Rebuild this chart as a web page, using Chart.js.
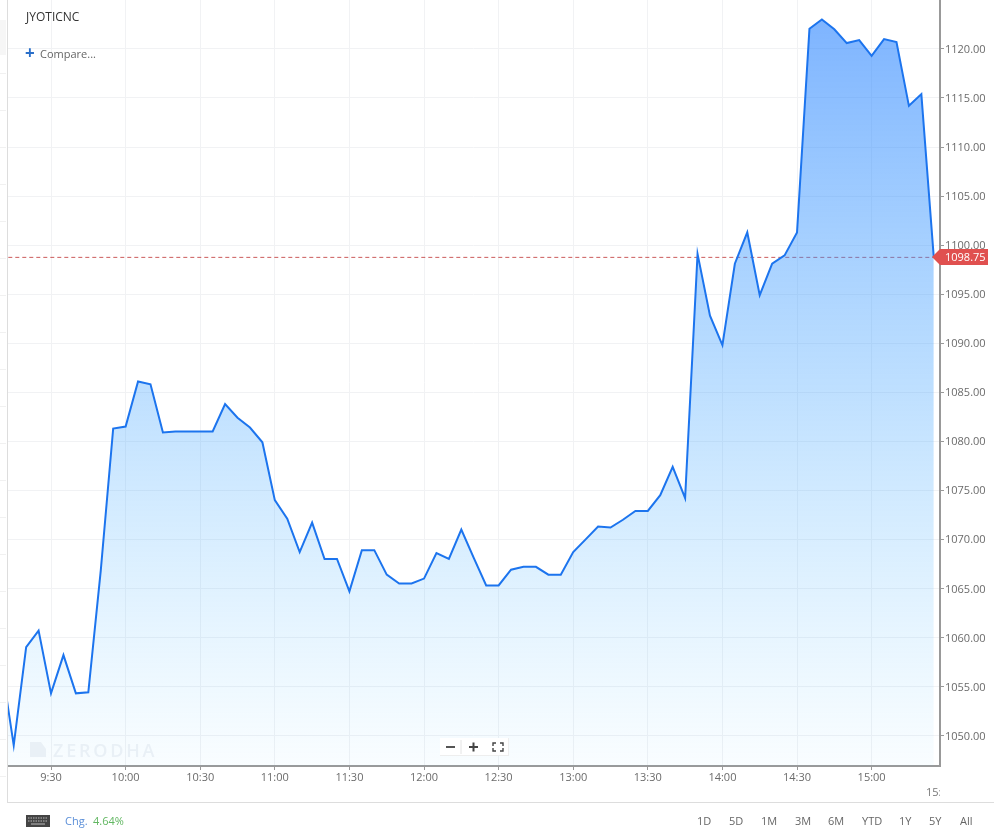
<!DOCTYPE html>
<html>
<head>
<meta charset="utf-8">
<title>JYOTICNC</title>
<script src="https://cdn.jsdelivr.net/npm/chart.js@4/dist/chart.umd.js"></script>
<style>
html, body { margin: 0; padding: 0; background: #fff; }
body { font-family: "Open Sans", sans-serif; color: #666; font-size: 11px; }
#myChart { position: absolute; left: 0; top: 0; }
.txt { position: absolute; white-space: nowrap; line-height: 14px; }
#strip { position: absolute; left: 0; top: 0; width: 6px; height: 802px; background: repeating-linear-gradient(#fff 0 36px, #f1f1f1 36px 37px); }
#stripBand { position: absolute; left: 0; top: 20px; width: 6px; height: 35px; background: #f6f6f6; }
#panelLeft { position: absolute; left: 7px; top: 0; width: 1px; height: 802px; background: #ddd; }
#panelBottom { position: absolute; left: 7px; top: 802px; width: 987px; height: 1px; background: #ddd; }
#zoomBox { position: absolute; left: 440px; top: 738px; width: 69px; height: 18px; background: #fff; border-right: 1px solid #eee; border-bottom: 1px solid #eee; box-sizing: border-box; }
#zoomBox svg { position: absolute; left: 0; top: 0; }
</style>
</head>
<body>
<canvas id="myChart" width="994" height="836"></canvas>
<div id="strip"></div>
<div id="stripBand"></div>
<div id="panelLeft"></div>
<div id="panelBottom"></div>

<div class="txt" style="left:26px;top:10px;font-size:12px;color:#333">JYOTICNC</div>
<div class="txt" style="left:25px;top:46px;font-size:17px;font-weight:700;color:#2a6fc9">+</div>
<div class="txt" style="left:40px;top:47px;color:#666">Compare...</div>

<svg style="position:absolute;left:30px;top:742px" width="17" height="16"><path d="M0 0H11L16 7V15H0Z" fill="#e9f0f6"/></svg>
<div class="txt" style="left:53px;top:740px;font-size:18px;line-height:20px;letter-spacing:2.8px;font-weight:600;color:#e9f0f6">ZERODHA</div>

<div id="zoomBox">
  <svg width="69" height="18">
    <path d="M6 9H15" stroke="#555" stroke-width="2"/>
    <path d="M21 2V16" stroke="#e4e4e4"/>
    <path d="M29 9H38M33.5 4.5V13.5" stroke="#444" stroke-width="2"/>
    <path d="M53 8V5H56M60 5H63V8M63 10V13H60M56 13H53V10" stroke="#444" fill="none" stroke-width="1.4"/>
  </svg>
</div>

<div class="txt" style="left:926px;top:785px;width:14px;overflow:hidden;color:#777">15:30</div>

<svg style="position:absolute;left:26px;top:815px" width="24" height="12"><rect width="24" height="12" fill="#444"/><path d="M2 3H22M2 6H22" stroke="#bbb" stroke-dasharray="1.5 1"/><path d="M5 9H19" stroke="#bbb"/></svg>
<div class="txt" style="left:65px;top:814px;color:#5b8fd8">Chg.</div>
<div class="txt" style="left:93px;top:814px;color:#62b762">4.64%</div>
<div id="ranges"></div>

<script>
// 5 minute closes, first one is cut off by the left edge
const times = ['9:10','9:15','9:20','9:25','9:30','9:35','9:40','9:45','9:50','9:55',
	'10:00','10:05','10:10','10:15','10:20','10:25','10:30','10:35','10:40','10:45','10:50','10:55',
	'11:00','11:05','11:10','11:15','11:20','11:25','11:30','11:35','11:40','11:45','11:50','11:55',
	'12:00','12:05','12:10','12:15','12:20','12:25','12:30','12:35','12:40','12:45','12:50','12:55',
	'13:00','13:05','13:10','13:15','13:20','13:25','13:30','13:35','13:40','13:45','13:50','13:55',
	'14:00','14:05','14:10','14:15','14:20','14:25','14:30','14:35','14:40','14:45','14:50','14:55',
	'15:00','15:05','15:10','15:15','15:20','15:25'];
const closes = [1057.4,1049.0,1059.0,1060.7,1054.3,1058.2,1054.3,1054.4,1066.8,1081.3,
	1081.5,1086.1,1085.8,1080.9,1081.0,1081.0,1081.0,1081.0,1083.8,1082.4,1081.4,1079.9,
	1074.0,1072.1,1068.7,1071.7,1068.0,1068.0,1064.7,1068.9,1068.9,1066.4,1065.5,1065.5,
	1066.0,1068.6,1068.0,1071.0,1068.1,1065.3,1065.3,1066.9,1067.2,1067.2,1066.4,1066.4,
	1068.7,1070.0,1071.3,1071.2,1072.0,1072.9,1072.9,1074.5,1077.4,1074.2,1099.1,1092.8,
	1089.8,1098.1,1101.3,1094.9,1098.1,1098.95,1101.3,1122.06,1123.0,1122.0,1120.6,1120.9,
	1119.3,1121.0,1120.7,1114.2,1115.4,1098.75];
const lastPrice = 1098.75;
const xTicks = ['9:30','10:00','10:30','11:00','11:30','12:00','12:30','13:00','13:30','14:00','14:30','15:00'];
const yTicks = [1050,1055,1060,1065,1070,1075,1080,1085,1090,1095,1100,1105,1110,1115,1120];
const rangeNames = ['1D','5D','1M','3M','6M','YTD','1Y','5Y','All'];
const rangeLeft = [697,729,761,795,828,862,899,929,960];

// minutes since midnight
const toMinutes = t => {
	const p = t.split(':');
	return (+p[0]) * 60 + (+p[1]);
};
const toLabel = m => Math.floor(m / 60) + ':' + String(m % 60).padStart(2, '0');

rangeNames.forEach((r, i) => {
	const d = document.createElement('div');
	d.className = 'txt';
	d.style.left = rangeLeft[i] + 'px';
	d.style.top = '814px';
	d.textContent = r;
	document.getElementById('ranges').appendChild(d);
});

// red tag on the price axis
const priceTag = {
	id: 'priceTag',
	afterDatasetsDraw(chart) {
		const c = chart.ctx;
		const y = Math.round(chart.scales.y.getPixelForValue(lastPrice));
		const right = chart.chartArea.right;
		c.save();
		c.fillStyle = '#e0504f';
		c.beginPath();
		c.moveTo(right - 8, y);
		c.lineTo(right, y - 8);
		c.lineTo(right + 48, y - 8);
		c.lineTo(right + 48, y + 8);
		c.lineTo(right, y + 8);
		c.closePath();
		c.fill();
		c.fillStyle = '#fff';
		c.font = '11px "Open Sans"';
		c.textBaseline = 'middle';
		c.fillText(lastPrice.toFixed(2), right + 5, y + 0.5);
		c.restore();
	}
};

const el = document.getElementById('myChart');

new Chart(el, {
	type: 'line',
	data: {
		datasets: [
			{
				data: times.map((t, i) => ({ x: toMinutes(t), y: closes[i] })),
				borderColor: '#1c74ee',
				borderWidth: 2,
				pointRadius: 0,
				tension: 0,
				fill: 'start',
				backgroundColor: c => {
					const area = c.chart.chartArea;
					if (!area) return 'rgba(40,130,255,0.3)';
					const g = c.chart.ctx.createLinearGradient(0, 20, 0, area.bottom);
					g.addColorStop(0, 'rgba(40,130,255,0.6)');
					g.addColorStop(0.5, 'rgba(60,160,255,0.33)');
					g.addColorStop(1, 'rgba(100,200,255,0.04)');
					return g;
				}
			},
			{
				data: [
					{ x: toMinutes(times[0]), y: lastPrice },
					{ x: toMinutes(times[times.length - 1]), y: lastPrice }
				],
				borderColor: 'rgba(190,50,50,0.8)',
				borderWidth: 1,
				borderDash: [4, 3],
				pointRadius: 0,
				fill: false
			}
		]
	},
	options: {
		responsive: false,
		animation: false,
		layout: {
			padding: { left: 8, top: 0, right: 0, bottom: 0 }
		},
		plugins: {
			legend: { display: false },
			tooltip: { enabled: false }
		},
		scales: {
			x: {
				type: 'linear',
				min: 552.7,
				max: 927.5,
				afterFit: s => { s.height = 70; s.paddingLeft = 0; s.paddingRight = 0; },
				afterBuildTicks: s => { s.ticks = xTicks.map(t => ({ value: toMinutes(t) })); },
				grid: { color: '#f1f2f4', tickColor: '#999', tickLength: 4 },
				border: { color: '#999', width: 2 },
				ticks: {
					color: '#6b6b6b',
					font: { family: 'Open Sans', size: 11 },
					maxRotation: 0,
					autoSkip: false,
					padding: 1,
					callback: v => toLabel(v)
				}
			},
			y: {
				position: 'right',
				min: 1046.89,
				max: 1124.99,
				afterFit: s => { s.width = 54; s.paddingTop = 0; s.paddingBottom = 0; },
				afterBuildTicks: s => { s.ticks = yTicks.map(v => ({ value: v })); },
				grid: { color: '#f1f2f4', tickColor: '#999', tickLength: 4 },
				border: { color: '#999', width: 2 },
				ticks: {
					color: '#6b6b6b',
					font: { family: 'Open Sans', size: 11 },
					autoSkip: false,
					padding: 1,
					labelOffset: 1,
					callback: v => v.toFixed(2)
				}
			}
		}
	},
	plugins: [priceTag]
});
</script>
</body>
</html>
